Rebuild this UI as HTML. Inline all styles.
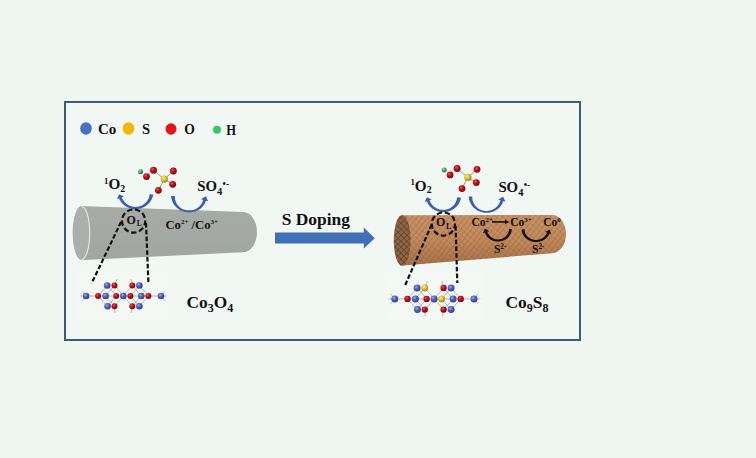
<!DOCTYPE html>
<html><head><meta charset="utf-8">
<style>
html,body{margin:0;padding:0;background:#eff6ef;width:756px;height:458px;overflow:hidden}
svg{position:absolute;left:0;top:0;display:block}
text{font-family:"Liberation Serif",serif;font-weight:bold;fill:#111}
</style></head><body>
<svg width="756" height="458" viewBox="0 0 756 458">

<defs>
  <linearGradient id="gbody" x1="0" y1="0" x2="0" y2="1">
    <stop offset="0" stop-color="#a6aba8"/>
    <stop offset="0.5" stop-color="#a4a9a6"/>
    <stop offset="1" stop-color="#a1a6a3"/>
  </linearGradient>
  <linearGradient id="bbody" x1="0" y1="0" x2="0" y2="1">
    <stop offset="0" stop-color="#cb9266"/>
    <stop offset="0.5" stop-color="#c2895c"/>
    <stop offset="1" stop-color="#a6724a"/>
  </linearGradient>
  <pattern id="hatch" width="4.2" height="4.2" patternUnits="userSpaceOnUse" patternTransform="rotate(38)">
    <path d="M0 0 L0 4.2" stroke="#6e4426" stroke-width="0.9" opacity="0.5"/>
  </pattern>
  <pattern id="hatch2" width="4.6" height="4.6" patternUnits="userSpaceOnUse" patternTransform="rotate(-48)">
    <path d="M0 0 L0 4.6" stroke="#6e4426" stroke-width="0.8" opacity="0.4"/>
  </pattern>
  <pattern id="hatchd" width="4.2" height="4.2" patternUnits="userSpaceOnUse" patternTransform="rotate(45)">
    <path d="M0 0 L0 4.2 M0 0 L4.2 0" stroke="#3c2616" stroke-width="1.1" opacity="0.65"/>
  </pattern>
  <radialGradient id="ball-b" cx="0.38" cy="0.35" r="0.65">
    <stop offset="0" stop-color="#a0acec"/><stop offset="0.45" stop-color="#5262bf"/><stop offset="1" stop-color="#323f96"/>
  </radialGradient>
  <radialGradient id="ball-r" cx="0.38" cy="0.35" r="0.65">
    <stop offset="0" stop-color="#ee5555"/><stop offset="0.45" stop-color="#c20e16"/><stop offset="1" stop-color="#80070e"/>
  </radialGradient>
  <radialGradient id="ball-y" cx="0.38" cy="0.35" r="0.65">
    <stop offset="0" stop-color="#fff28a"/><stop offset="0.45" stop-color="#e2c22c"/><stop offset="1" stop-color="#a68a12"/>
  </radialGradient>
  <radialGradient id="ball-g" cx="0.38" cy="0.35" r="0.65">
    <stop offset="0" stop-color="#9ee8a8"/><stop offset="0.45" stop-color="#3cae5a"/><stop offset="1" stop-color="#1e7a38"/>
  </radialGradient>
</defs>

<!-- frame -->
<rect x="65" y="102" width="515" height="238" fill="#f1f7f2" stroke="#405b77" stroke-width="2"/>

<!-- legend -->
<ellipse cx="86" cy="128.5" rx="5.8" ry="6.2" fill="#4472c4"/>
<text x="97.9" y="134.4" font-size="15">Co</text>
<ellipse cx="128.5" cy="128.5" rx="5.8" ry="6.2" fill="#f2b705"/>
<text x="142.1" y="134" font-size="14.6">S</text>
<ellipse cx="171" cy="129" rx="5.5" ry="5.8" fill="#e8121a"/>
<text x="184.3" y="134.3" font-size="13.6">O</text>
<circle cx="217" cy="129.7" r="4" fill="#2ecc66"/>
<text x="226.2" y="135.2" font-size="13.7" transform="translate(226.2 0) scale(0.92 1) translate(-226.2 0)">H</text>

<!-- faint image boxes -->
<rect x="78" y="272" width="90" height="48" fill="#f3f8f4"/>
<rect x="386" y="273" width="96" height="51" fill="#f3f8f4"/>

<!-- gray cylinder -->
<path d="M81 206 L243 212 A14 20.15 0 0 1 243 252.3 L83 260 A9 27 0 0 1 81 206 Z" fill="url(#gbody)"/>
<ellipse cx="81.5" cy="233" rx="8.8" ry="26.8" fill="#aaafac"/>
<path d="M81.5 206.5 A8.2 26.5 0 0 1 81.5 259.5" fill="none" stroke="#e6e9e6" stroke-width="1.1"/>

<!-- brown cylinder -->
<path d="M401 215.2 L552 215 A14 19.1 0 0 1 552 253.2 L403 265.6 A8.2 25.2 0 0 1 401 215.2 Z" fill="url(#bbody)"/>
<path d="M401 215.2 L552 215 A14 19.1 0 0 1 552 253.2 L403 265.6 A8.2 25.2 0 0 1 401 215.2 Z" fill="url(#hatch)"/>
<path d="M401 215.2 L552 215 A14 19.1 0 0 1 552 253.2 L403 265.6 A8.2 25.2 0 0 1 401 215.2 Z" fill="url(#hatch2)"/>
<ellipse cx="402.3" cy="240.4" rx="8.2" ry="25.2" fill="#8c6446"/>
<ellipse cx="402.3" cy="240.4" rx="8.2" ry="25.2" fill="url(#hatchd)"/>

<!-- molecules -->
<line x1="164.3" y1="179.1" x2="153.5" y2="170.3" stroke="#8c8c8c" stroke-width="0.9"/>
<line x1="164.3" y1="179.1" x2="173.4" y2="171.0" stroke="#8c8c8c" stroke-width="0.9"/>
<line x1="164.3" y1="179.1" x2="172.7" y2="184.3" stroke="#8c8c8c" stroke-width="0.9"/>
<line x1="164.3" y1="179.1" x2="158.4" y2="190.3" stroke="#8c8c8c" stroke-width="0.9"/>
<circle cx="140.6" cy="171.7" r="2.5" fill="url(#ball-g)"/>
<circle cx="153.5" cy="170.3" r="3.5" fill="url(#ball-r)"/>
<circle cx="146.5" cy="176.6" r="3.4" fill="url(#ball-r)"/>
<circle cx="173.4" cy="171.0" r="3.4" fill="url(#ball-r)"/>
<circle cx="164.3" cy="179.1" r="3.6" fill="url(#ball-y)"/>
<circle cx="172.7" cy="184.3" r="3.4" fill="url(#ball-r)"/>
<circle cx="158.4" cy="190.3" r="3.4" fill="url(#ball-r)"/>
<line x1="467.9" y1="177.4" x2="457.1" y2="168.6" stroke="#8c8c8c" stroke-width="0.9"/>
<line x1="467.9" y1="177.4" x2="477.0" y2="169.3" stroke="#8c8c8c" stroke-width="0.9"/>
<line x1="467.9" y1="177.4" x2="476.3" y2="182.6" stroke="#8c8c8c" stroke-width="0.9"/>
<line x1="467.9" y1="177.4" x2="462.0" y2="188.6" stroke="#8c8c8c" stroke-width="0.9"/>
<circle cx="444.2" cy="170.0" r="2.5" fill="url(#ball-g)"/>
<circle cx="457.1" cy="168.6" r="3.5" fill="url(#ball-r)"/>
<circle cx="450.1" cy="174.9" r="3.4" fill="url(#ball-r)"/>
<circle cx="477.0" cy="169.3" r="3.4" fill="url(#ball-r)"/>
<circle cx="467.9" cy="177.4" r="3.6" fill="url(#ball-y)"/>
<circle cx="476.3" cy="182.6" r="3.4" fill="url(#ball-r)"/>
<circle cx="462.0" cy="188.6" r="3.4" fill="url(#ball-r)"/>

<!-- blue arrows gray -->
<path d="M153.22 194.62 L153.02 195.57 L152.77 196.50 L152.47 197.42 L152.13 198.32 L151.73 199.19 L151.28 200.04 L150.79 200.86 L150.25 201.66 L149.68 202.42 L149.06 203.15 L148.40 203.84 L147.71 204.49 L146.98 205.11 L146.23 205.68 L145.44 206.22 L144.62 206.71 L143.78 207.16 L142.92 207.56 L142.04 207.91 L141.14 208.22 L140.23 208.49 L139.31 208.70 L138.37 208.87 L137.43 208.99 L136.49 209.08 L135.54 209.11 L134.59 209.09 L133.64 209.03 L132.70 208.91 L131.76 208.75 L130.83 208.54 L129.92 208.27 L129.02 207.96 L128.14 207.60 L127.28 207.20 L126.44 206.75 L125.63 206.25 L124.85 205.71 L124.10 205.13 L123.38 204.51 L122.69 203.85 L122.05 203.16 L121.44 202.42 L120.87 201.66 L120.35 200.87 L119.87 200.05 L119.44 199.20 L119.06 198.33 L116.95 199.12 L119.13 194.24 L123.98 196.48 L121.87 197.27 L122.14 198.01 L122.46 198.72 L122.81 199.43 L123.21 200.11 L123.65 200.77 L124.13 201.41 L124.64 202.02 L125.19 202.60 L125.78 203.15 L126.40 203.68 L127.04 204.16 L127.72 204.62 L128.42 205.03 L129.15 205.41 L129.90 205.74 L130.66 206.04 L131.45 206.29 L132.25 206.50 L133.06 206.67 L133.88 206.79 L134.70 206.86 L135.53 206.89 L136.36 206.87 L137.19 206.81 L138.01 206.69 L138.82 206.52 L139.62 206.30 L140.41 206.04 L141.17 205.74 L141.92 205.39 L142.64 205.01 L143.33 204.58 L144.00 204.12 L144.64 203.62 L145.25 203.09 L145.82 202.52 L146.35 201.93 L146.85 201.31 L147.31 200.67 L147.73 200.00 L148.11 199.31 L148.45 198.61 L148.74 197.89 L148.99 197.16 L149.20 196.42 L149.36 195.67 L149.47 194.91 L149.55 194.16 Z" fill="#3b5fae"/>
<path d="M171.10 196.00 L171.19 197.04 L171.35 198.06 L171.57 199.08 L171.85 200.07 L172.18 201.04 L172.58 201.99 L173.02 202.91 L173.53 203.80 L174.08 204.66 L174.68 205.48 L175.33 206.26 L176.02 207.01 L176.75 207.71 L177.52 208.37 L178.33 208.98 L179.17 209.55 L180.04 210.06 L180.94 210.53 L181.87 210.95 L182.81 211.31 L183.77 211.62 L184.75 211.88 L185.74 212.09 L186.74 212.24 L187.74 212.35 L188.75 212.41 L189.77 212.41 L190.78 212.36 L191.79 212.25 L192.79 212.09 L193.78 211.86 L194.76 211.59 L195.71 211.26 L196.65 210.87 L197.57 210.43 L198.46 209.94 L199.32 209.40 L200.14 208.81 L200.93 208.18 L201.69 207.50 L202.40 206.77 L203.06 206.01 L203.69 205.20 L204.26 204.36 L204.78 203.49 L205.25 202.59 L205.66 201.66 L206.01 200.70 L208.17 201.34 L205.78 196.25 L200.98 199.20 L203.14 199.84 L202.91 200.65 L202.63 201.44 L202.30 202.22 L201.92 202.98 L201.49 203.72 L201.02 204.43 L200.50 205.12 L199.93 205.78 L199.33 206.40 L198.68 206.99 L198.00 207.54 L197.28 208.06 L196.53 208.53 L195.75 208.95 L194.94 209.33 L194.11 209.66 L193.25 209.95 L192.38 210.18 L191.50 210.36 L190.60 210.49 L189.70 210.56 L188.79 210.58 L187.88 210.55 L186.98 210.46 L186.09 210.30 L185.21 210.09 L184.34 209.82 L183.50 209.50 L182.68 209.13 L181.89 208.71 L181.13 208.25 L180.40 207.74 L179.71 207.19 L179.06 206.61 L178.45 205.98 L177.88 205.33 L177.36 204.64 L176.88 203.93 L176.45 203.19 L176.07 202.43 L175.74 201.66 L175.46 200.87 L175.24 200.07 L175.07 199.26 L174.95 198.44 L174.88 197.62 L174.86 196.81 L174.90 196.00 Z" fill="#3b5fae"/>
<!-- blue arrows brown -->
<path d="M461.06 197.64 L460.86 198.60 L460.60 199.54 L460.29 200.46 L459.93 201.36 L459.52 202.23 L459.07 203.09 L458.57 203.91 L458.02 204.70 L457.44 205.46 L456.81 206.19 L456.15 206.88 L455.45 207.53 L454.71 208.14 L453.95 208.72 L453.16 209.25 L452.34 209.73 L451.50 210.18 L450.63 210.58 L449.75 210.93 L448.85 211.23 L447.93 211.49 L447.01 211.71 L446.07 211.87 L445.13 211.99 L444.19 212.08 L443.24 212.11 L442.29 212.09 L441.34 212.03 L440.40 211.91 L439.46 211.75 L438.53 211.54 L437.62 211.27 L436.72 210.96 L435.84 210.60 L434.98 210.20 L434.14 209.75 L433.33 209.25 L432.55 208.71 L431.80 208.13 L431.08 207.51 L430.39 206.85 L429.75 206.16 L429.14 205.42 L428.57 204.66 L428.05 203.87 L427.57 203.05 L427.14 202.20 L426.76 201.33 L424.65 202.12 L426.83 197.24 L431.68 199.48 L429.57 200.27 L429.84 201.01 L430.16 201.72 L430.51 202.43 L430.91 203.11 L431.35 203.77 L431.83 204.41 L432.34 205.02 L432.89 205.60 L433.48 206.15 L434.10 206.68 L434.74 207.16 L435.42 207.62 L436.12 208.03 L436.85 208.41 L437.60 208.74 L438.36 209.04 L439.15 209.29 L439.95 209.50 L440.76 209.67 L441.58 209.79 L442.40 209.86 L443.23 209.89 L444.06 209.87 L444.89 209.81 L445.71 209.69 L446.52 209.52 L447.32 209.30 L448.10 209.03 L448.87 208.73 L449.61 208.38 L450.33 207.99 L451.02 207.56 L451.68 207.09 L452.32 206.59 L452.92 206.05 L453.48 205.48 L454.01 204.89 L454.50 204.27 L454.95 203.62 L455.37 202.95 L455.74 202.27 L456.06 201.56 L456.35 200.85 L456.59 200.12 L456.78 199.38 L456.93 198.64 L457.04 197.89 L457.10 197.14 Z" fill="#3b5fae"/>
<path d="M468.70 196.40 L468.79 197.43 L468.94 198.45 L469.15 199.46 L469.42 200.45 L469.74 201.42 L470.13 202.36 L470.57 203.28 L471.06 204.17 L471.60 205.03 L472.20 205.85 L472.83 206.64 L473.52 207.38 L474.24 208.09 L475.01 208.75 L475.81 209.36 L476.64 209.93 L477.50 210.45 L478.39 210.92 L479.31 211.34 L480.25 211.70 L481.20 212.02 L482.17 212.28 L483.16 212.48 L484.15 212.64 L485.15 212.75 L486.16 212.81 L487.16 212.81 L488.17 212.76 L489.17 212.65 L490.17 212.49 L491.15 212.26 L492.12 211.99 L493.08 211.66 L494.01 211.27 L494.92 210.83 L495.81 210.34 L496.66 209.80 L497.48 209.21 L498.27 208.57 L499.02 207.89 L499.72 207.17 L500.39 206.40 L501.00 205.60 L501.57 204.76 L502.09 203.89 L502.55 202.98 L502.96 202.05 L503.32 201.10 L505.48 201.74 L503.07 196.65 L498.28 199.61 L500.44 200.25 L500.22 201.05 L499.94 201.85 L499.61 202.62 L499.23 203.38 L498.81 204.12 L498.34 204.84 L497.82 205.52 L497.26 206.18 L496.66 206.81 L496.02 207.39 L495.34 207.95 L494.62 208.46 L493.88 208.93 L493.10 209.35 L492.30 209.73 L491.47 210.06 L490.62 210.35 L489.76 210.58 L488.88 210.76 L487.99 210.89 L487.09 210.96 L486.19 210.98 L485.29 210.95 L484.39 210.86 L483.51 210.70 L482.63 210.49 L481.78 210.23 L480.94 209.91 L480.12 209.54 L479.34 209.13 L478.58 208.66 L477.85 208.16 L477.16 207.61 L476.51 207.03 L475.90 206.41 L475.33 205.76 L474.81 205.07 L474.33 204.36 L473.90 203.62 L473.51 202.86 L473.18 202.09 L472.90 201.29 L472.67 200.49 L472.49 199.68 L472.36 198.86 L472.29 198.04 L472.27 197.22 L472.30 196.40 Z" fill="#3b5fae"/>
<!-- black arrows -->
<path d="M511.98 229.21 L511.89 229.99 L511.75 230.76 L511.56 231.52 L511.33 232.26 L511.06 232.99 L510.75 233.70 L510.39 234.40 L510.00 235.07 L509.56 235.71 L509.09 236.33 L508.59 236.92 L508.05 237.48 L507.48 238.01 L506.88 238.51 L506.26 238.97 L505.61 239.40 L504.93 239.79 L504.24 240.15 L503.53 240.46 L502.80 240.74 L502.05 240.97 L501.30 241.17 L500.53 241.32 L499.76 241.44 L498.99 241.52 L498.21 241.56 L497.42 241.55 L496.64 241.51 L495.87 241.42 L495.10 241.29 L494.33 241.11 L493.58 240.90 L492.84 240.64 L492.12 240.35 L491.42 240.01 L490.73 239.64 L490.07 239.23 L489.43 238.78 L488.82 238.30 L488.24 237.78 L487.68 237.23 L487.17 236.65 L486.68 236.04 L486.23 235.41 L485.82 234.75 L485.45 234.07 L485.12 233.36 L484.83 232.64 L483.03 233.25 L484.89 228.61 L489.19 231.17 L487.39 231.78 L487.59 232.36 L487.82 232.93 L488.09 233.50 L488.39 234.04 L488.73 234.57 L489.10 235.08 L489.50 235.57 L489.93 236.04 L490.39 236.49 L490.88 236.91 L491.39 237.30 L491.93 237.66 L492.49 237.99 L493.07 238.29 L493.66 238.56 L494.28 238.79 L494.91 238.99 L495.55 239.16 L496.19 239.28 L496.85 239.37 L497.51 239.43 L498.18 239.44 L498.84 239.42 L499.50 239.36 L500.15 239.25 L500.80 239.11 L501.44 238.92 L502.06 238.71 L502.67 238.45 L503.26 238.17 L503.82 237.85 L504.37 237.49 L504.90 237.11 L505.39 236.70 L505.87 236.27 L506.31 235.81 L506.72 235.32 L507.10 234.82 L507.45 234.29 L507.76 233.75 L508.04 233.19 L508.29 232.62 L508.50 232.04 L508.67 231.45 L508.80 230.86 L508.90 230.26 L508.96 229.65 L508.99 229.05 Z" fill="#111"/>
<path d="M521.51 229.48 L521.59 230.25 L521.72 231.02 L521.90 231.78 L522.12 232.53 L522.38 233.26 L522.69 233.98 L523.05 234.67 L523.44 235.35 L523.87 236.00 L524.34 236.62 L524.85 237.22 L525.39 237.79 L525.96 238.33 L526.57 238.83 L527.20 239.30 L527.86 239.74 L528.54 240.14 L529.25 240.51 L529.97 240.84 L530.71 241.12 L531.47 241.38 L532.24 241.59 L533.02 241.76 L533.81 241.89 L534.61 241.99 L535.41 242.05 L536.21 242.06 L537.02 242.04 L537.82 241.97 L538.61 241.86 L539.40 241.71 L540.18 241.52 L540.95 241.29 L541.70 241.02 L542.43 240.70 L543.15 240.36 L543.84 239.97 L544.52 239.54 L545.16 239.08 L545.78 238.59 L546.37 238.06 L546.92 237.51 L547.44 236.92 L547.93 236.30 L548.37 235.66 L548.78 235.00 L549.15 234.31 L549.47 233.60 L551.24 234.30 L549.61 229.57 L545.19 231.91 L546.96 232.61 L546.73 233.18 L546.47 233.74 L546.17 234.29 L545.84 234.83 L545.47 235.34 L545.07 235.84 L544.64 236.32 L544.17 236.77 L543.68 237.20 L543.16 237.60 L542.62 237.98 L542.05 238.32 L541.45 238.64 L540.84 238.92 L540.21 239.17 L539.57 239.39 L538.91 239.57 L538.24 239.72 L537.56 239.83 L536.87 239.90 L536.18 239.94 L535.49 239.93 L534.80 239.89 L534.12 239.81 L533.44 239.69 L532.77 239.53 L532.12 239.33 L531.48 239.10 L530.85 238.83 L530.25 238.53 L529.66 238.20 L529.10 237.84 L528.57 237.45 L528.06 237.03 L527.58 236.58 L527.14 236.11 L526.72 235.62 L526.34 235.11 L525.99 234.59 L525.68 234.04 L525.40 233.48 L525.16 232.91 L524.95 232.33 L524.79 231.75 L524.66 231.15 L524.57 230.56 L524.52 229.96 L524.51 229.36 Z" fill="#111"/>

<!-- dashed circles and lines -->
<g fill="none" stroke="#111" stroke-width="2.2" stroke-dasharray="4.6 2.2">
<circle cx="133.6" cy="221" r="11.6" stroke-dasharray="5.4 2.7" stroke-dashoffset="1"/>
<path d="M121 222 L91.6 283.4"/>
<path d="M146 223 L148.4 282.8"/>
<circle cx="443.4" cy="224" r="11.6" stroke-dasharray="5.4 2.7" stroke-dashoffset="1"/>
<path d="M431.6 224.7 L404.8 286"/>
<path d="M455.6 226 L457.3 283"/>
</g>

<!-- crystals -->
<line x1="80.0" y1="296.0" x2="167.0" y2="296.0" stroke="#9aa0a0" stroke-width="0.7"/>
<line x1="98.2" y1="296.0" x2="107.4" y2="285.5" stroke="#9aa0a0" stroke-width="0.7"/>
<line x1="107.4" y1="285.5" x2="116.4" y2="296.0" stroke="#9aa0a0" stroke-width="0.7"/>
<line x1="98.2" y1="296.0" x2="107.4" y2="306.3" stroke="#9aa0a0" stroke-width="0.7"/>
<line x1="107.4" y1="306.3" x2="116.4" y2="296.0" stroke="#9aa0a0" stroke-width="0.7"/>
<line x1="130.2" y1="296.0" x2="139.4" y2="285.5" stroke="#9aa0a0" stroke-width="0.7"/>
<line x1="139.4" y1="285.5" x2="148.4" y2="296.0" stroke="#9aa0a0" stroke-width="0.7"/>
<line x1="130.2" y1="296.0" x2="139.4" y2="306.3" stroke="#9aa0a0" stroke-width="0.7"/>
<line x1="139.4" y1="306.3" x2="148.4" y2="296.0" stroke="#9aa0a0" stroke-width="0.7"/>
<line x1="105.5" y1="296.0" x2="114.5" y2="285.5" stroke="#9aa0a0" stroke-width="0.7"/>
<line x1="114.5" y1="285.5" x2="123.5" y2="296.0" stroke="#9aa0a0" stroke-width="0.7"/>
<line x1="105.5" y1="296.0" x2="114.5" y2="306.3" stroke="#9aa0a0" stroke-width="0.7"/>
<line x1="114.5" y1="306.3" x2="123.5" y2="296.0" stroke="#9aa0a0" stroke-width="0.7"/>
<line x1="123.3" y1="296.0" x2="132.3" y2="285.5" stroke="#9aa0a0" stroke-width="0.7"/>
<line x1="132.3" y1="285.5" x2="141.3" y2="296.0" stroke="#9aa0a0" stroke-width="0.7"/>
<line x1="123.3" y1="296.0" x2="132.3" y2="306.3" stroke="#9aa0a0" stroke-width="0.7"/>
<line x1="132.3" y1="306.3" x2="141.3" y2="296.0" stroke="#9aa0a0" stroke-width="0.7"/>
<line x1="114.5" y1="285.5" x2="117.0" y2="279.0" stroke="#9aa0a0" stroke-width="0.7"/>
<line x1="132.3" y1="285.5" x2="131.0" y2="279.0" stroke="#9aa0a0" stroke-width="0.7"/>
<line x1="114.5" y1="306.3" x2="115.0" y2="313.0" stroke="#9aa0a0" stroke-width="0.7"/>
<line x1="132.3" y1="306.3" x2="131.0" y2="313.0" stroke="#9aa0a0" stroke-width="0.7"/>
<line x1="86.1" y1="296.0" x2="82.0" y2="291.0" stroke="#9aa0a0" stroke-width="0.7"/>
<line x1="86.1" y1="296.0" x2="82.0" y2="301.0" stroke="#9aa0a0" stroke-width="0.7"/>
<line x1="161.0" y1="296.0" x2="165.0" y2="291.0" stroke="#9aa0a0" stroke-width="0.7"/>
<line x1="161.0" y1="296.0" x2="165.0" y2="301.0" stroke="#9aa0a0" stroke-width="0.7"/>
<circle cx="107.2" cy="285.5" r="3.3" fill="url(#ball-b)"/>
<circle cx="114.5" cy="285.5" r="3.0" fill="url(#ball-r)"/>
<circle cx="132.3" cy="285.5" r="3.0" fill="url(#ball-r)"/>
<circle cx="139.4" cy="285.5" r="3.3" fill="url(#ball-b)"/>
<circle cx="86.1" cy="296.0" r="3.3" fill="url(#ball-b)"/>
<circle cx="98.1" cy="296.0" r="3.0" fill="url(#ball-r)"/>
<circle cx="105.6" cy="296.0" r="3.3" fill="url(#ball-b)"/>
<circle cx="116.2" cy="296.0" r="3.0" fill="url(#ball-r)"/>
<circle cx="123.3" cy="296.0" r="3.3" fill="url(#ball-b)"/>
<circle cx="130.4" cy="296.0" r="3.0" fill="url(#ball-r)"/>
<circle cx="141.3" cy="296.0" r="3.3" fill="url(#ball-b)"/>
<circle cx="148.4" cy="296.0" r="3.0" fill="url(#ball-r)"/>
<circle cx="161.0" cy="296.0" r="3.3" fill="url(#ball-b)"/>
<circle cx="107.6" cy="306.3" r="3.3" fill="url(#ball-b)"/>
<circle cx="114.5" cy="306.3" r="3.0" fill="url(#ball-r)"/>
<circle cx="132.3" cy="306.3" r="3.0" fill="url(#ball-r)"/>
<circle cx="139.4" cy="306.3" r="3.3" fill="url(#ball-b)"/>
<line x1="388.4" y1="298.9" x2="480.3" y2="298.9" stroke="#9aa0a0" stroke-width="0.7"/>
<line x1="407.6" y1="298.9" x2="417.3" y2="288.0" stroke="#9aa0a0" stroke-width="0.7"/>
<line x1="417.3" y1="288.0" x2="426.8" y2="298.9" stroke="#9aa0a0" stroke-width="0.7"/>
<line x1="407.6" y1="298.9" x2="417.3" y2="309.6" stroke="#9aa0a0" stroke-width="0.7"/>
<line x1="417.3" y1="309.6" x2="426.8" y2="298.9" stroke="#9aa0a0" stroke-width="0.7"/>
<line x1="441.4" y1="298.9" x2="451.1" y2="288.0" stroke="#9aa0a0" stroke-width="0.7"/>
<line x1="451.1" y1="288.0" x2="460.7" y2="298.9" stroke="#9aa0a0" stroke-width="0.7"/>
<line x1="441.4" y1="298.9" x2="451.1" y2="309.6" stroke="#9aa0a0" stroke-width="0.7"/>
<line x1="451.1" y1="309.6" x2="460.7" y2="298.9" stroke="#9aa0a0" stroke-width="0.7"/>
<line x1="415.3" y1="298.9" x2="424.8" y2="288.0" stroke="#9aa0a0" stroke-width="0.7"/>
<line x1="424.8" y1="288.0" x2="434.3" y2="298.9" stroke="#9aa0a0" stroke-width="0.7"/>
<line x1="415.3" y1="298.9" x2="424.8" y2="309.6" stroke="#9aa0a0" stroke-width="0.7"/>
<line x1="424.8" y1="309.6" x2="434.3" y2="298.9" stroke="#9aa0a0" stroke-width="0.7"/>
<line x1="434.1" y1="298.9" x2="443.6" y2="288.0" stroke="#9aa0a0" stroke-width="0.7"/>
<line x1="443.6" y1="288.0" x2="453.1" y2="298.9" stroke="#9aa0a0" stroke-width="0.7"/>
<line x1="434.1" y1="298.9" x2="443.6" y2="309.6" stroke="#9aa0a0" stroke-width="0.7"/>
<line x1="443.6" y1="309.6" x2="453.1" y2="298.9" stroke="#9aa0a0" stroke-width="0.7"/>
<line x1="424.8" y1="288.0" x2="427.5" y2="281.2" stroke="#9aa0a0" stroke-width="0.7"/>
<line x1="443.6" y1="288.0" x2="442.3" y2="281.2" stroke="#9aa0a0" stroke-width="0.7"/>
<line x1="424.8" y1="309.6" x2="425.3" y2="316.6" stroke="#9aa0a0" stroke-width="0.7"/>
<line x1="443.6" y1="309.6" x2="442.3" y2="316.6" stroke="#9aa0a0" stroke-width="0.7"/>
<line x1="394.8" y1="298.9" x2="390.5" y2="293.7" stroke="#9aa0a0" stroke-width="0.7"/>
<line x1="394.8" y1="298.9" x2="390.5" y2="304.1" stroke="#9aa0a0" stroke-width="0.7"/>
<line x1="474.0" y1="298.9" x2="478.2" y2="293.7" stroke="#9aa0a0" stroke-width="0.7"/>
<line x1="474.0" y1="298.9" x2="478.2" y2="304.1" stroke="#9aa0a0" stroke-width="0.7"/>
<circle cx="417.1" cy="288.0" r="3.4880999999999998" fill="url(#ball-b)"/>
<circle cx="424.8" cy="288.0" r="3.3824" fill="url(#ball-y)"/>
<circle cx="443.6" cy="288.0" r="3.171" fill="url(#ball-r)"/>
<circle cx="451.1" cy="288.0" r="3.4880999999999998" fill="url(#ball-b)"/>
<circle cx="394.8" cy="298.9" r="3.4880999999999998" fill="url(#ball-b)"/>
<circle cx="407.5" cy="298.9" r="3.171" fill="url(#ball-r)"/>
<circle cx="415.4" cy="298.9" r="3.4880999999999998" fill="url(#ball-b)"/>
<circle cx="426.6" cy="298.9" r="3.171" fill="url(#ball-r)"/>
<circle cx="434.1" cy="298.9" r="3.4880999999999998" fill="url(#ball-b)"/>
<circle cx="441.6" cy="298.9" r="3.3824" fill="url(#ball-y)"/>
<circle cx="453.1" cy="298.9" r="3.4880999999999998" fill="url(#ball-b)"/>
<circle cx="460.7" cy="298.9" r="3.171" fill="url(#ball-r)"/>
<circle cx="474.0" cy="298.9" r="3.4880999999999998" fill="url(#ball-b)"/>
<circle cx="417.5" cy="309.6" r="3.4880999999999998" fill="url(#ball-b)"/>
<circle cx="424.8" cy="309.6" r="3.171" fill="url(#ball-r)"/>
<circle cx="443.6" cy="309.6" r="3.171" fill="url(#ball-r)"/>
<circle cx="451.1" cy="309.6" r="3.4880999999999998" fill="url(#ball-b)"/>

<!-- S doping arrow -->
<path d="M275 232.6 L363.8 232.6 L363.8 227.6 L374.8 238.2 L363.8 248.6 L363.8 243.6 L275 243.6 Z" fill="#4070b6"/>
<text x="281.7" y="224.6" font-size="17.4">S Doping</text>

<!-- labels -->
<text x="104" y="189" font-size="15.2"><tspan font-size="8.8" dy="-5.4">1</tspan><tspan dy="5.4">O</tspan><tspan font-size="9.8" dy="2.9">2</tspan></text>
<text x="197.2" y="191" font-size="14.8">SO<tspan font-size="10.5" dy="4">4</tspan><tspan font-size="9.5" dy="-8" dx="0.4">•-</tspan></text>
<text x="410.4" y="190.5" font-size="15.2"><tspan font-size="8.8" dy="-5.4">1</tspan><tspan dy="5.4">O</tspan><tspan font-size="9.8" dy="2.9">2</tspan></text>
<text x="498.4" y="191.6" font-size="14.8">SO<tspan font-size="10.5" dy="4">4</tspan><tspan font-size="9.5" dy="-8" dx="0.4">•-</tspan></text>

<text x="126.6" y="223.6" font-size="12">O<tspan font-size="7.5" dy="2.5" dx="0.8">L</tspan></text>
<text x="435.9" y="226.4" font-size="12">O<tspan font-size="8" dy="3" dx="0.8">L</tspan></text>

<text x="165.4" y="229" font-size="12.7">Co<tspan font-size="7" dy="-5">2+</tspan><tspan dy="5"> /Co</tspan><tspan font-size="7" dy="-5">3+</tspan></text>

<text x="471.5" y="225.9" font-size="11.5">Co<tspan font-size="6.9" dy="-4">2+</tspan></text>
<path d="M492 221.9 L505.5 221.9" stroke="#111" stroke-width="1.6"/>
<path d="M505 219.6 L509 221.9 L505 224.2 Z" fill="#111"/>
<text x="510.3" y="225.9" font-size="11.5">Co<tspan font-size="6.9" dy="-4">3+</tspan></text>
<text x="543.2" y="225.9" font-size="11.5">Co<tspan font-size="6.9" dy="-4">0</tspan></text>
<text x="493.9" y="252.7" font-size="11.5" fill="#2e1c12">S<tspan font-size="7.2" dy="-4.2">2-</tspan></text>
<text x="532" y="252.7" font-size="11.5" fill="#2e1c12">S<tspan font-size="7.2" dy="-4.2">2-</tspan></text>

<text x="186.5" y="308" font-size="17.4">Co<tspan font-size="12" dy="4">3</tspan><tspan dy="-4">O</tspan><tspan font-size="12" dy="4">4</tspan></text>
<text x="505.5" y="308" font-size="17.4">Co<tspan font-size="12" dy="4">9</tspan><tspan dy="-4">S</tspan><tspan font-size="12" dy="4">8</tspan></text>

</svg>
</body></html>
